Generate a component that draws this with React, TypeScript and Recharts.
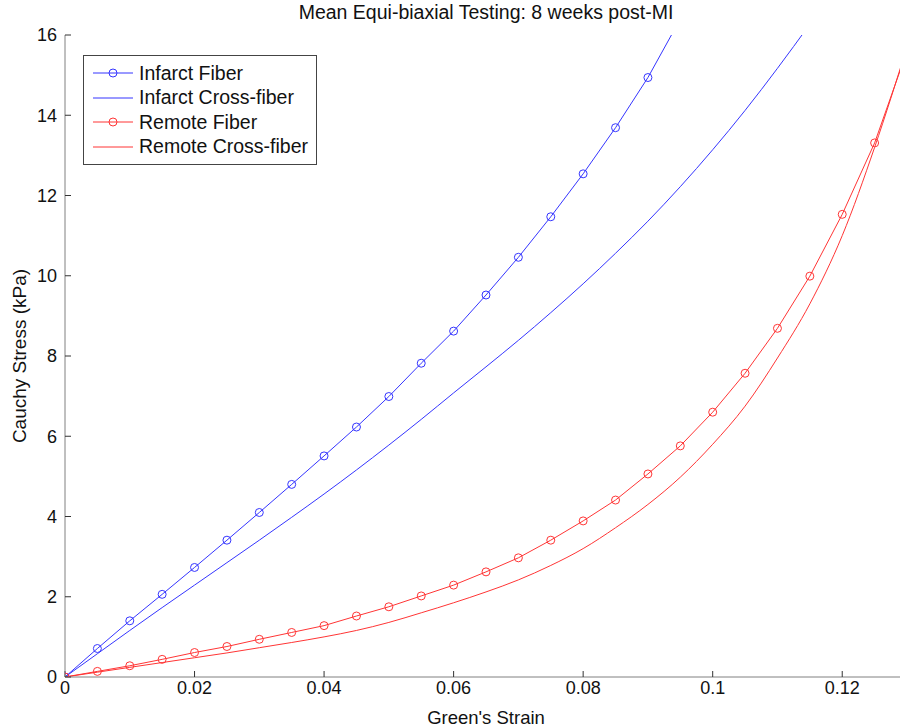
import React from "react";
import { LineChart, Line, XAxis, YAxis, Legend } from "recharts";

// Green's strain grid (markers every 0.005)
const strain = [
  0, 0.005, 0.01, 0.015, 0.02, 0.025, 0.03, 0.035, 0.04, 0.045, 0.05, 0.055, 0.06, 0.065,
  0.07, 0.075, 0.08, 0.085, 0.09, 0.095, 0.1, 0.105, 0.11, 0.115, 0.12, 0.125, 0.13,
];

// Cauchy stress (kPa)
const infarctFiber = [
  0, 0.71, 1.4, 2.06, 2.73, 3.41, 4.1, 4.8, 5.51, 6.23, 6.99, 7.82, 8.62, 9.52,
  10.46, 11.47, 12.54, 13.69, 14.94, 16.4, null, null, null, null, null, null, null,
];
const infarctCross = [
  0, 0.58, 1.16, 1.73, 2.29, 2.85, 3.41, 3.98, 4.56, 5.16, 5.78, 6.42, 7.08, 7.73,
  8.39, 9.08, 9.8, 10.56, 11.36, 12.22, 13.14, 14.12, 15.17, 16.27, null, null, null,
];
const remoteFiber = [
  0, 0.14, 0.28, 0.44, 0.61, 0.76, 0.94, 1.11, 1.28, 1.52, 1.75, 2.02, 2.29, 2.62,
  2.97, 3.41, 3.89, 4.41, 5.06, 5.76, 6.6, 7.57, 8.69, 9.99, 11.53, 13.31, 15.6,
];
const remoteCross = [
  0, 0.12, 0.24, 0.36, 0.48, 0.6, 0.73, 0.86, 1.0, 1.16, 1.36, 1.6, 1.85, 2.12,
  2.42, 2.78, 3.2, 3.72, 4.3, 4.98, 5.8, 6.75, 7.95, 9.3, 11.0, 13.2, 15.7,
];

const seriesNames = ["Infarct Fiber", "Infarct Cross-fiber", "Remote Fiber", "Remote Cross-fiber"];
const xTicks = [0, 0.02, 0.04, 0.06, 0.08, 0.1, 0.12];
const yTicks = [0, 2, 4, 6, 8, 10, 12, 14, 16];

const BLUE = "#3535ff";
const RED = "#ff3535";
const FONT = "'Liberation Sans', Arial, sans-serif";

const data = strain.map((s, i) => ({
  strain: s,
  infarctFiber: infarctFiber[i],
  infarctCross: infarctCross[i],
  remoteFiber: remoteFiber[i],
  remoteCross: remoteCross[i],
}));

const withMarker = ["Infarct Fiber", "Remote Fiber"];

function LegendBox({ payload }: any) {
  const items = [...(payload || [])].sort(
    (a: any, b: any) => seriesNames.indexOf(a.value) - seriesNames.indexOf(b.value)
  );
  return (
    <div
      style={{
        border: "1px solid #444",
        background: "#fff",
        padding: "5px 8px 5px 8px",
        fontFamily: FONT,
        fontSize: 19.5,
        color: "#111",
      }}
    >
      {items.map((entry: any) => (
        <div key={entry.value} style={{ display: "flex", alignItems: "center", height: 24.5 }}>
          <svg width={42} height={12} style={{ marginRight: 5 }}>
            <line x1={1} y1={6} x2={41} y2={6} stroke={entry.color} strokeWidth={1} />
            {withMarker.includes(entry.value) && (
              <circle cx={21} cy={6} r={4} fill="none" stroke={entry.color} strokeWidth={1} />
            )}
          </svg>
          <span>{entry.value}</span>
        </div>
      ))}
    </div>
  );
}

export default function App() {
  const tickStyle = { fontFamily: FONT, fontSize: 18, fill: "#111" };
  return (
    <div
      style={{
        position: "absolute",
        left: 0,
        top: 0,
        width: 900,
        height: 727,
        overflow: "hidden",
        background: "#fff",
      }}
    >
      <div
        style={{
          position: "absolute",
          left: 65,
          top: 0,
          width: 842,
          textAlign: "center",
          fontFamily: FONT,
          fontSize: 19.5,
          lineHeight: "25px",
          color: "#111",
        }}
      >
        Mean Equi-biaxial Testing: 8 weeks post-MI
      </div>
      <LineChart
        width={920}
        height={727}
        data={data}
        margin={{ top: 35, right: 13, bottom: 0, left: 0 }}
      >
        <XAxis
          xAxisId="bottom"
          dataKey="strain"
          type="number"
          domain={[0, 0.13]}
          ticks={xTicks}
          allowDataOverflow
          height={50}
          tickSize={-6}
          tickMargin={10}
          tick={tickStyle}
          stroke="#808080"
          tickLine={{ stroke: "#333" }}
          label={{
            value: "Green's Strain",
            position: "insideBottom",
            offset: 3,
            style: { fontFamily: FONT, fontSize: 18.5, fill: "#111" },
          }}
        />
        <XAxis
          xAxisId="top"
          orientation="top"
          dataKey="strain"
          type="number"
          domain={[0, 0.13]}
          ticks={xTicks}
          allowDataOverflow
          height={0}
          tickSize={-6}
          tick={false}
          stroke="#808080"
          tickLine={{ stroke: "#333" }}
        />
        <YAxis
          yAxisId="left"
          type="number"
          domain={[0, 16]}
          ticks={yTicks}
          allowDataOverflow
          width={65}
          tickSize={-6}
          tickMargin={14}
          tick={tickStyle}
          stroke="#808080"
          tickLine={{ stroke: "#333" }}
          label={{
            content: (props: any) => {
              const vb = props.viewBox || { x: 0, y: 35, height: 642 };
              const cx = vb.x + 19;
              const cy = vb.y + vb.height / 2;
              return (
                <text
                  x={cx}
                  y={cy}
                  transform={`rotate(-90 ${cx} ${cy})`}
                  textAnchor="middle"
                  dominantBaseline="central"
                  style={{ fontFamily: FONT, fontSize: 19, fill: "#111" }}
                >
                  Cauchy Stress (kPa)
                </text>
              );
            },
          }}
        />
        <YAxis
          yAxisId="right"
          orientation="right"
          type="number"
          domain={[0, 16]}
          ticks={yTicks}
          allowDataOverflow
          width={0}
          tickSize={-6}
          tick={false}
          stroke="#808080"
          tickLine={{ stroke: "#333" }}
        />
        <Legend
          layout="horizontal"
          verticalAlign="middle"
          align="center"
          wrapperStyle={{ left: 83, top: 55, width: "auto", height: "auto" }}
          content={<LegendBox />}
        />
        <Line
          xAxisId="bottom"
          yAxisId="left"
          name={seriesNames[0]}
          dataKey="infarctFiber"
          type="linear"
          stroke={BLUE}
          strokeWidth={1}
          dot={{ r: 4, fill: "none", stroke: BLUE, strokeWidth: 1 }}
          isAnimationActive={false}
        />
        <Line
          xAxisId="bottom"
          yAxisId="left"
          name={seriesNames[1]}
          dataKey="infarctCross"
          type="monotone"
          stroke={BLUE}
          strokeWidth={1}
          dot={false}
          isAnimationActive={false}
        />
        <Line
          xAxisId="bottom"
          yAxisId="left"
          name={seriesNames[2]}
          dataKey="remoteFiber"
          type="linear"
          stroke={RED}
          strokeWidth={1}
          dot={{ r: 4, fill: "none", stroke: RED, strokeWidth: 1 }}
          isAnimationActive={false}
        />
        <Line
          xAxisId="bottom"
          yAxisId="left"
          name={seriesNames[3]}
          dataKey="remoteCross"
          type="monotone"
          stroke={RED}
          strokeWidth={1}
          dot={false}
          isAnimationActive={false}
        />
      </LineChart>
    </div>
  );
}
